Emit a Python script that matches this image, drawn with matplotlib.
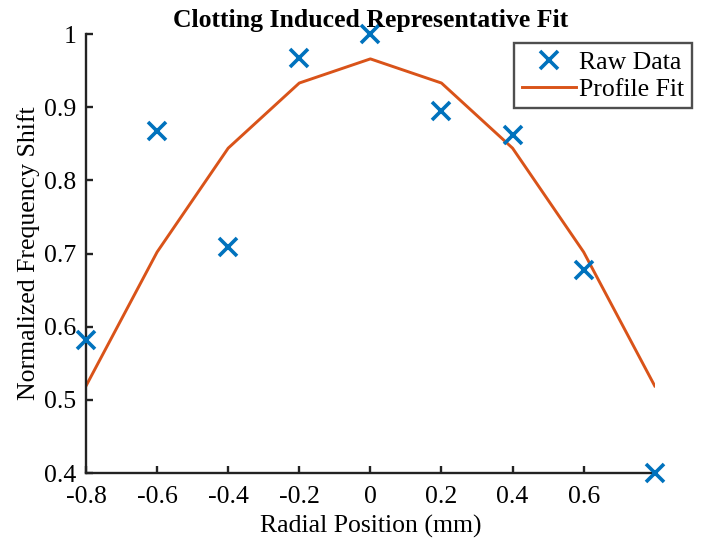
import matplotlib
matplotlib.use('Agg')
import matplotlib.pyplot as plt

# dados
posicao = [-0.8, -0.6, -0.4, -0.2, 0.0, 0.2, 0.4, 0.6, 0.8]
bruto = [0.582, 0.867, 0.709, 0.967, 1.0, 0.895, 0.862, 0.677, 0.40]
ajuste = [0.519, 0.702, 0.844, 0.933, 0.966, 0.933, 0.844, 0.702, 0.519]
xticks = [-0.8, -0.6, -0.4, -0.2, 0, 0.2, 0.4, 0.6]
xticklabels = ['-0.8', '-0.6', '-0.4', '-0.2', '0', '0.2', '0.4', '0.6']
yticks = [0.4, 0.5, 0.6, 0.7, 0.8, 0.9, 1.0]
yticklabels = ['0.4', '0.5', '0.6', '0.7', '0.8', '0.9', '1']

plt.rcParams['font.family'] = ['Liberation Serif', 'DejaVu Serif']
fs = 18.5

fig = plt.figure(figsize=(7.01, 5.45), dpi=100)
ax = fig.add_axes([0.1227, 0.1321, 0.8113, 0.8055])

ax.plot(posicao, bruto, 'x', color='#0072BD', markersize=13, markeredgewidth=2.6,
        label='Raw Data', clip_on=False, zorder=3)
ax.plot(posicao, ajuste, '-', color='#D95319', linewidth=2.1, label='Profile Fit')

ax.set_xlim(-0.8, 0.8)
ax.set_ylim(0.4, 1.0)
ax.set_xticks(xticks)
ax.set_xticklabels(xticklabels)
ax.set_yticks(yticks)
ax.set_yticklabels(yticklabels)

for s in ['top', 'right']:
    ax.spines[s].set_visible(False)
for s in ['left', 'bottom']:
    ax.spines[s].set_linewidth(1.7)
    ax.spines[s].set_color('#222222')
ax.tick_params(direction='in', length=5, width=1.7, labelsize=fs, color='#222222')
ax.tick_params(axis='x', pad=9)
ax.tick_params(axis='y', pad=7)

ax.set_xlabel('Radial Position (mm)', fontsize=fs, labelpad=5)
ax.set_ylabel('Normalized Frequency Shift', fontsize=fs, labelpad=3)
ax.set_title('Clotting Induced Representative Fit', fontsize=fs, fontweight='bold', pad=5)

leg = ax.legend(loc='upper right', bbox_to_anchor=(0.987, 0.921), bbox_transform=fig.transFigure,
                fontsize=fs, frameon=True, fancybox=False, edgecolor='#222222',
                borderpad=0.3, handlelength=2.1, handletextpad=0.12, labelspacing=0.15,
                borderaxespad=0)
leg.get_frame().set_linewidth(1.7)

fig.savefig('out.png', dpi=100)
